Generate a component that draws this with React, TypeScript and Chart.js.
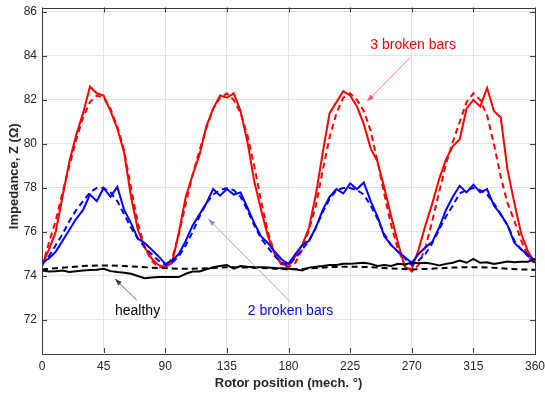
import React, { useEffect, useRef } from "react";
import { Chart, registerables } from "chart.js";

Chart.register(...registerables);

// Rotor position (mech. deg), 5 degree steps
const angles: number[] = Array.from({ length: 73 }, (_, i) => i * 5);
const anglesCoarse: number[] = Array.from({ length: 37 }, (_, i) => i * 10);

const xTicks = [0, 45, 90, 135, 180, 225, 270, 315, 360];
const yTicks = [72, 74, 76, 78, 80, 82, 84, 86];

// 3 broken bars – solid (measured)
const red3Solid = [
  74.5, 75.2, 76.0, 77.6, 79.2, 80.4, 81.4, 82.6, 82.3, 82.2, 81.5, 80.7, 79.6, 77.6, 76.1, 75.3, 74.8, 74.5, 74.4,
  74.6, 76.0, 77.6, 78.6, 79.5, 80.8, 81.6, 82.2, 82.1, 82.3, 81.5, 80.1, 78.3, 77.0, 75.8, 75.0, 74.55, 74.45,
  74.9, 75.4, 76.2, 77.7, 79.6, 81.4, 81.9, 82.4, 82.2, 81.7, 80.9, 79.8, 79.2, 78.0, 76.7, 75.5, 74.4, 74.3,
  75.2, 76.3, 77.3, 78.4, 79.3, 79.9, 80.2, 81.6, 82.0, 81.7, 82.55, 81.5, 81.2, 78.8, 77.3, 75.9, 75.1, 74.6,
];
// 3 broken bars – dashed (model)
const red3Dashed = [
  74.4, 75.5, 76.5, 77.8, 79.0, 80.2, 81.2, 81.9, 82.2, 82.1, 81.6, 80.8, 79.7, 78.0, 76.4, 75.3, 74.7, 74.4, 74.4,
  74.8, 75.9, 77.3, 78.6, 79.7, 80.7, 81.6, 82.1, 82.3, 82.0, 81.4, 80.4, 79.0, 77.4, 76.0, 75.0, 74.5, 74.4,
  74.6, 75.2, 76.1, 77.2, 78.8, 80.3, 81.4, 82.1, 82.3, 82.0, 81.5, 80.6, 79.2, 77.7, 76.3, 75.2, 74.5, 74.2,
  74.5, 75.3, 76.5, 77.8, 79.1, 80.1, 81.0, 81.9, 82.3, 82.0, 81.3, 80.0, 78.5, 77.3, 76.5, 75.6, 74.9, 74.5,
];
// 2 broken bars – solid
const blue2Solid = [
  74.6, 74.8, 75.1, 75.6, 76.1, 76.6, 77.0, 77.7, 77.4, 78.0, 77.6, 78.05, 77.0, 76.4, 75.7, 75.5, 75.2, 74.9, 74.55,
  74.7, 75.0, 75.6, 76.3, 76.8, 77.3, 77.95, 77.65, 77.95, 77.7, 77.8, 77.1, 76.4, 75.8, 75.5, 75.1, 74.75, 74.55,
  75.0, 75.4, 75.6, 76.2, 77.0, 77.6, 77.95, 77.75, 78.2, 77.95, 78.25, 77.4, 76.7, 75.8, 75.4, 75.1, 74.85, 74.6,
  75.0, 75.3, 75.55, 76.2, 77.0, 77.6, 78.1, 77.8, 78.15, 77.8, 77.95, 77.2, 76.8, 76.3, 75.5, 75.2, 74.95, 74.7,
];
// 2 broken bars – dashed
const blue2Dashed = [
  74.5, 74.9, 75.4, 75.9, 76.5, 77.0, 77.4, 77.8, 78.0, 78.0, 77.8, 77.4, 76.8, 76.2, 75.7, 75.3, 75.0, 74.7, 74.5,
  74.6, 74.9, 75.4, 76.0, 76.7, 77.3, 77.7, 77.9, 78.0, 77.9, 77.6, 77.0, 76.3, 75.7, 75.3, 74.9, 74.6, 74.5,
  74.8, 75.2, 75.6, 76.2, 76.9, 77.5, 77.9, 78.0, 78.0, 77.9, 77.7, 77.2, 76.6, 75.9, 75.4, 75.1, 74.8, 74.5,
  74.7, 75.0, 75.5, 76.1, 76.7, 77.2, 77.75, 77.9, 78.0, 77.9, 77.7, 77.3, 76.8, 76.3, 75.6, 75.2, 74.9, 74.6,
];
// healthy – solid
const healthySolid = [
  74.25, 74.2, 74.22, 74.25, 74.18, 74.22, 74.25, 74.27, 74.28, 74.33, 74.22, 74.18, 74.15, 74.1, 74.0, 73.9, 73.93, 73.95, 73.95,
  73.95, 73.95, 74.1, 74.2, 74.2, 74.3, 74.4, 74.45, 74.5, 74.33, 74.45, 74.42, 74.4, 74.4, 74.38, 74.36, 74.35, 74.33,
  74.3, 74.25, 74.38, 74.42, 74.45, 74.5, 74.5, 74.55, 74.55, 74.58, 74.6, 74.55, 74.45, 74.5, 74.45, 74.55, 74.52, 74.6,
  74.58, 74.6, 74.55, 74.48, 74.55, 74.6, 74.7, 74.6, 74.78, 74.6, 74.62, 74.55, 74.6, 74.66, 74.62, 74.65, 74.65, 74.78,
];
// healthy – dashed (10 degree steps)
const healthyDashed = [
  74.3, 74.35, 74.4, 74.45, 74.48, 74.48, 74.45, 74.42, 74.38, 74.35, 74.33, 74.33, 74.35, 74.38, 74.4, 74.38, 74.36, 74.33, 74.3,
  74.32, 74.36, 74.4, 74.42, 74.42, 74.4, 74.36, 74.33, 74.3, 74.32, 74.35, 74.38, 74.4, 74.4, 74.37, 74.33, 74.3, 74.28,
];

// annotations in data coordinates
const annotationTexts = ["3 broken bars", "2 broken bars", "healthy"];
const annotationColors = ["#ff0000", "#0000ff", "#000000"];
const arrowColors = ["#ff5a5a", "#8a8ae6", "#404040"];
const annotationTextPos: [number, number][] = [[271, 84.5], [181.5, 72.38], [69.8, 72.38]];
const arrowFrom: [number, number][] = [[268.8, 83.92], [181.2, 72.83], [69.2, 72.9]];
const arrowTo: [number, number][] = [[237.4, 81.94], [121.5, 76.59], [53.3, 73.87]];

const FONT = "'Liberation Sans', Arial, Helvetica, sans-serif";

function pts(xs: number[], ys: number[]) {
  return xs.map((x, i) => ({ x, y: ys[i] }));
}

const framePlugin = {
  id: "frame",
  afterDraw(chart: any) {
    const { ctx, chartArea: a, scales } = chart;
    const xs = scales.x;
    const ys = scales.y;
    ctx.save();
    // annotations
    ctx.font = `14px ${FONT}`;
    ctx.textAlign = "center";
    ctx.textBaseline = "middle";
    annotationTexts.forEach((t, i) => {
      ctx.fillStyle = annotationColors[i];
      ctx.fillText(t, xs.getPixelForValue(annotationTextPos[i][0]), ys.getPixelForValue(annotationTextPos[i][1]));
      const x1 = xs.getPixelForValue(arrowFrom[i][0]);
      const y1 = ys.getPixelForValue(arrowFrom[i][1]);
      const x2 = xs.getPixelForValue(arrowTo[i][0]);
      const y2 = ys.getPixelForValue(arrowTo[i][1]);
      ctx.strokeStyle = arrowColors[i];
      ctx.fillStyle = arrowColors[i];
      ctx.lineWidth = 0.8;
      ctx.beginPath();
      ctx.moveTo(x1, y1);
      ctx.lineTo(x2, y2);
      ctx.stroke();
      const ang = Math.atan2(y2 - y1, x2 - x1);
      const L = 7, W = 2.5;
      ctx.beginPath();
      ctx.moveTo(x2, y2);
      ctx.lineTo(x2 - L * Math.cos(ang) + W * Math.sin(ang), y2 - L * Math.sin(ang) - W * Math.cos(ang));
      ctx.lineTo(x2 - L * Math.cos(ang) - W * Math.sin(ang), y2 - L * Math.sin(ang) + W * Math.cos(ang));
      ctx.closePath();
      ctx.fill();
    });
    // box
    ctx.strokeStyle = "#3a3a3a";
    ctx.lineWidth = 1;
    ctx.strokeRect(Math.round(a.left) + 0.5, Math.round(a.top) + 0.5, Math.round(a.right - a.left), Math.round(a.bottom - a.top));
    // inward ticks
    const tl = 5;
    ctx.beginPath();
    xTicks.forEach((v) => {
      const x = Math.round(xs.getPixelForValue(v)) + 0.5;
      ctx.moveTo(x, a.bottom);
      ctx.lineTo(x, a.bottom - tl);
      ctx.moveTo(x, a.top);
      ctx.lineTo(x, a.top + tl);
    });
    yTicks.forEach((v) => {
      const y = Math.round(ys.getPixelForValue(v)) + 0.5;
      ctx.moveTo(a.left, y);
      ctx.lineTo(a.left + tl, y);
      ctx.moveTo(a.right, y);
      ctx.lineTo(a.right - tl, y);
    });
    ctx.stroke();
    // axis titles
    ctx.fillStyle = "#262626";
    ctx.font = `bold 13px ${FONT}`;
    ctx.textAlign = "center";
    ctx.textBaseline = "middle";
    ctx.fillText("Rotor position (mech. °)", (a.left + a.right) / 2, a.bottom + 30);
    ctx.translate(a.left - 28, (a.top + a.bottom) / 2 - 4);
    ctx.rotate(-Math.PI / 2);
    ctx.fillText("Impedance, Z (Ω)", 0, 0);
    ctx.restore();
  },
};

export default function App() {
  const ref = useRef<HTMLCanvasElement>(null);
  useEffect(() => {
    if (!ref.current) return;
    const lineDs = (label: string, xs: number[], ys: number[], color: string, dashed: boolean) => ({
      label,
      data: pts(xs, ys),
      borderColor: color,
      backgroundColor: color,
      borderWidth: 2,
      borderDash: dashed ? [6, 4] : [],
      pointRadius: 0,
      tension: 0,
      fill: false,
    });
    const chart = new Chart(ref.current, {
      type: "line",
      data: {
        datasets: [
          lineDs("healthy (dashed)", anglesCoarse, healthyDashed, "#000000", true),
          lineDs("healthy", angles, healthySolid, "#000000", false),
          lineDs("2 broken bars (dashed)", angles, blue2Dashed, "#0000ff", true),
          lineDs("2 broken bars", angles, blue2Solid, "#0000ff", false),
          lineDs("3 broken bars (dashed)", angles, red3Dashed, "#ff0000", true),
          lineDs("3 broken bars", angles, red3Solid, "#ff0000", false),
        ],
      },
      options: {
        responsive: false,
        animation: false,
        events: [],
        layout: { padding: { top: 7.5, right: 10, left: 0, bottom: 0 } },
        plugins: { legend: { display: false }, tooltip: { enabled: false } },
        scales: {
          x: {
            type: "linear",
            min: 0,
            max: 360,
            afterBuildTicks: (s: any) => {
              s.ticks = xTicks.map((v) => ({ value: v }));
            },
            afterFit: (s: any) => {
              s.height = 40;
              s.paddingLeft = 0;
              s.paddingRight = 0;
            },
            ticks: { color: "#262626", font: { family: FONT, size: 12 }, padding: 6, maxRotation: 0 },
            grid: { color: "#e3e3e3", drawTicks: false, lineWidth: 1 },
            border: { display: false },
          },
          y: {
            type: "linear",
            min: 70.5,
            max: 86.2,
            afterBuildTicks: (s: any) => {
              s.ticks = yTicks.map((v) => ({ value: v }));
            },
            afterFit: (s: any) => {
              s.width = 42;
              s.paddingTop = 0;
              s.paddingBottom = 0;
            },
            ticks: { color: "#262626", font: { family: FONT, size: 12 }, padding: 5 },
            grid: { color: "#e3e3e3", drawTicks: false, lineWidth: 1 },
            border: { display: false },
          },
        },
      },
      plugins: [framePlugin],
    } as any);
    return () => chart.destroy();
  }, []);
  return (
    <div style={{ position: "absolute", left: 0, top: 0, width: 545, height: 393, background: "#fff" }}>
      <canvas ref={ref} width={545} height={393} />
    </div>
  );
}
